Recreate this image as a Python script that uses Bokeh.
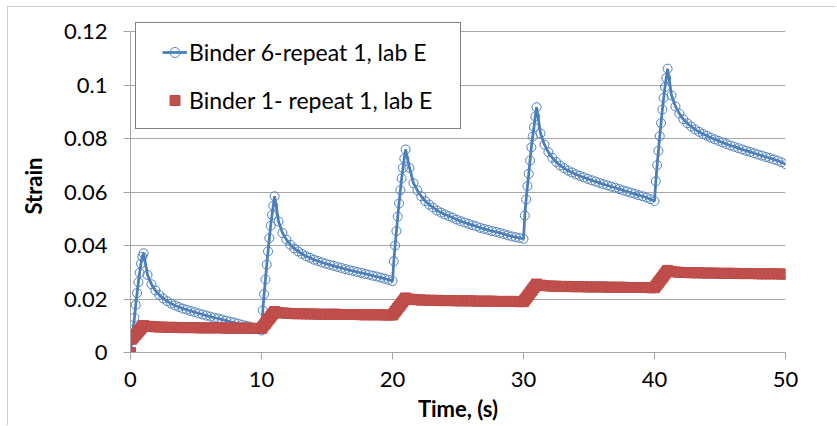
from bokeh.plotting import figure
from bokeh.models import (Legend, LegendItem, FixedTicker, CustomJSTickFormatter,
                          Range1d, ColumnDataSource)
from bokeh.embed import file_html
from bokeh.resources import INLINE

# ---------------- data ----------------
cycle_starts = [0, 10, 20, 30, 40]
# sample times inside one creep (0-1 s) / recovery (1-10 s) cycle
step_offsets = [0.1, 0.2, 0.3, 0.4, 0.5, 0.6, 0.7, 0.8, 0.9, 1.0,
                1.3, 1.6, 1.9, 2.2, 2.5, 2.8, 3.1, 3.4, 3.7, 4.0,
                4.3, 4.6, 4.9, 5.2, 5.5, 5.8, 6.1, 6.4, 6.7, 7.0,
                7.3, 7.6, 7.9, 8.2, 8.5, 8.8, 9.1, 9.4, 9.7, 10.0]

blue_c1 = [0.0045, 0.0085, 0.0130, 0.0178, 0.0222, 0.0263, 0.0298, 0.0332, 0.0358, 0.0371,
           0.0290, 0.0255, 0.0232, 0.0215, 0.0202, 0.0192, 0.0183, 0.0176, 0.0170, 0.0164,
           0.0160, 0.0155, 0.0151, 0.0146, 0.0142, 0.0138, 0.0134, 0.0130, 0.0127, 0.0123,
           0.0119, 0.0115, 0.0112, 0.0108, 0.0104, 0.0100, 0.0097, 0.0092, 0.0088, 0.0082]
blue_c2 = [0.0157, 0.0218, 0.0273, 0.0328, 0.0378, 0.0428, 0.0474, 0.0514, 0.0549, 0.0584,
           0.0490, 0.0447, 0.0422, 0.0403, 0.0389, 0.0378, 0.0368, 0.0360, 0.0354, 0.0347,
           0.0342, 0.0337, 0.0332, 0.0328, 0.0324, 0.0320, 0.0316, 0.0312, 0.0308, 0.0305,
           0.0301, 0.0298, 0.0294, 0.0291, 0.0287, 0.0284, 0.0280, 0.0276, 0.0272, 0.0267]
blue_c3 = [0.0341, 0.0400, 0.0454, 0.0508, 0.0557, 0.0607, 0.0651, 0.0690, 0.0725, 0.0759,
           0.0690, 0.0633, 0.0606, 0.0584, 0.0566, 0.0553, 0.0542, 0.0531, 0.0523, 0.0516,
           0.0510, 0.0504, 0.0497, 0.0491, 0.0486, 0.0481, 0.0476, 0.0472, 0.0466, 0.0462,
           0.0458, 0.0454, 0.0451, 0.0447, 0.0443, 0.0438, 0.0434, 0.0431, 0.0428, 0.0425]
blue_c4 = [0.0512, 0.0572, 0.0622, 0.0668, 0.0718, 0.0767, 0.0807, 0.0842, 0.0882, 0.0917,
           0.0819, 0.0777, 0.0749, 0.0728, 0.0712, 0.0699, 0.0689, 0.0680, 0.0673, 0.0666,
           0.0660, 0.0655, 0.0649, 0.0644, 0.0639, 0.0634, 0.0629, 0.0625, 0.0620, 0.0616,
           0.0611, 0.0606, 0.0602, 0.0597, 0.0593, 0.0588, 0.0584, 0.0579, 0.0573, 0.0566]
blue_c5 = [0.0640, 0.0700, 0.0754, 0.0809, 0.0858, 0.0908, 0.0952, 0.0992, 0.1026, 0.1061,
           0.0961, 0.0920, 0.0893, 0.0872, 0.0857, 0.0845, 0.0834, 0.0825, 0.0817, 0.0810,
           0.0803, 0.0797, 0.0791, 0.0785, 0.0779, 0.0774, 0.0769, 0.0764, 0.0759, 0.0754,
           0.0750, 0.0745, 0.0740, 0.0736, 0.0731, 0.0727, 0.0722, 0.0717, 0.0711, 0.0704]

red_c1 = [0.0050, 0.0056, 0.0062, 0.0067, 0.0073, 0.0079, 0.0084, 0.0090, 0.0096, 0.0101,
          0.0098, 0.0097, 0.0096, 0.0095, 0.0095, 0.0094, 0.0094, 0.0094, 0.0093, 0.0093,
          0.0093, 0.0093, 0.0093, 0.0092, 0.0092, 0.0092, 0.0092, 0.0092, 0.0092, 0.0092,
          0.0091, 0.0091, 0.0091, 0.0091, 0.0091, 0.0091, 0.0091, 0.0090, 0.0090, 0.0090]
red_c2 = [0.0096, 0.0103, 0.0109, 0.0115, 0.0122, 0.0128, 0.0134, 0.0140, 0.0147, 0.0153,
          0.0149, 0.0148, 0.0147, 0.0146, 0.0145, 0.0145, 0.0145, 0.0144, 0.0144, 0.0144,
          0.0143, 0.0143, 0.0143, 0.0143, 0.0143, 0.0143, 0.0142, 0.0142, 0.0142, 0.0142,
          0.0142, 0.0141, 0.0141, 0.0141, 0.0141, 0.0141, 0.0141, 0.0140, 0.0140, 0.0140]
red_c3 = [0.0146, 0.0153, 0.0159, 0.0166, 0.0172, 0.0178, 0.0185, 0.0191, 0.0198, 0.0204,
          0.0200, 0.0198, 0.0197, 0.0196, 0.0196, 0.0195, 0.0195, 0.0195, 0.0194, 0.0194,
          0.0194, 0.0194, 0.0193, 0.0193, 0.0193, 0.0193, 0.0193, 0.0192, 0.0192, 0.0192,
          0.0192, 0.0192, 0.0191, 0.0191, 0.0191, 0.0191, 0.0191, 0.0191, 0.0190, 0.0190]
red_c4 = [0.0197, 0.0203, 0.0210, 0.0216, 0.0223, 0.0230, 0.0236, 0.0243, 0.0249, 0.0256,
          0.0252, 0.0250, 0.0249, 0.0248, 0.0248, 0.0247, 0.0247, 0.0247, 0.0246, 0.0246,
          0.0246, 0.0246, 0.0245, 0.0245, 0.0245, 0.0245, 0.0245, 0.0244, 0.0244, 0.0244,
          0.0244, 0.0244, 0.0243, 0.0243, 0.0243, 0.0243, 0.0243, 0.0243, 0.0242, 0.0242]
red_c5 = [0.0249, 0.0255, 0.0262, 0.0268, 0.0275, 0.0281, 0.0288, 0.0294, 0.0301, 0.0307,
          0.0303, 0.0301, 0.0300, 0.0299, 0.0299, 0.0298, 0.0298, 0.0298, 0.0297, 0.0297,
          0.0297, 0.0297, 0.0296, 0.0296, 0.0296, 0.0296, 0.0296, 0.0295, 0.0295, 0.0295,
          0.0295, 0.0295, 0.0294, 0.0294, 0.0294, 0.0294, 0.0294, 0.0294, 0.0293, 0.0293]

blue_cycles = [blue_c1, blue_c2, blue_c3, blue_c4, blue_c5]
red_cycles = [red_c1, red_c2, red_c3, red_c4, red_c5]

x_ticks = [0, 10, 20, 30, 40, 50]
y_ticks = [0, 0.02, 0.04, 0.06, 0.08, 0.1, 0.12]

label_blue = "Binder 6-repeat 1, lab E"
label_red = "Binder 1- repeat 1, lab E"
x_title = "Time, (s)"
y_title = "Strain"

# ---------------- assemble ----------------
time = [0.0]
blue = [0.0]
red = [0.0]
for start, b, r in zip(cycle_starts, blue_cycles, red_cycles):
    time += [round(start + o, 2) for o in step_offsets]
    blue += b
    red += r

src = ColumnDataSource(dict(t=time, blue=blue, red=red))

FONT = "Lato"
GRID = "#a6a6a6"

Y_MAX = 0.12
PLOT_H = 321                      # pixels between 0 and 0.12
EXTRA_TOP = 12                    # frame reaches above 0.12 so the legend frame is not clipped
y_top = Y_MAX * (PLOT_H + EXTRA_TOP) / PLOT_H

p = figure(width=829, height=419,
           frame_width=655, frame_height=PLOT_H + EXTRA_TOP,
           min_border_left=122, min_border_right=52,
           min_border_top=12, min_border_bottom=74,
           x_range=Range1d(0, 50), y_range=Range1d(0, y_top),
           output_backend="svg", toolbar_location=None,
           background_fill_color="white", border_fill_color="white",
           margin=(7, 0, 0, 8),
           styles={"box-shadow": "-1px -1px 0 0 #cfcfcf"})
p.outline_line_color = None

# axes
for ax in (p.xaxis[0], p.yaxis[0]):
    ax.axis_line_color = GRID
    ax.major_tick_line_color = GRID
    ax.major_tick_out = 7
    ax.major_tick_in = 0
    ax.minor_tick_line_color = None
    ax.major_label_text_font = FONT
    ax.major_label_text_font_size = "22px"
    ax.major_label_text_color = "black"
    ax.axis_label_text_font = FONT
    ax.axis_label_text_font_size = "22px"
    ax.axis_label_text_font_style = "bold"
    ax.axis_label_text_color = "black"

p.xaxis.ticker = FixedTicker(ticks=x_ticks)
p.yaxis.ticker = FixedTicker(ticks=y_ticks)
p.yaxis.bounds = (0, Y_MAX)
p.yaxis.formatter = CustomJSTickFormatter(code="return String(parseFloat(tick.toFixed(4)));")
p.xaxis.major_label_standoff = 12
p.yaxis.major_label_standoff = 16
p.xaxis.axis_label = x_title
p.yaxis.axis_label = y_title
p.xaxis.axis_label_standoff = 5
p.yaxis.axis_label_standoff = 14

p.xgrid.visible = False
p.ygrid.ticker = FixedTicker(ticks=y_ticks)
p.ygrid.grid_line_color = GRID
p.ygrid.grid_line_width = 1

# series
BLUE = "#4A7EBB"
RED = "#C0504D"
bl = p.line("t", "blue", source=src, line_color=BLUE, line_width=2.75)
bc = p.scatter("t", "blue", source=src, marker="circle", size=9,
               line_color="#4F81BD", line_width=1, fill_color=None)
rs = p.scatter("t", "red", source=src, marker="square", size=10,
               line_color="#BE4B48", line_width=1, fill_color=RED)

# invisible renderer used only to give the legend frame an item
dummy = p.scatter(x=[0], y=[0], size=1, fill_alpha=0, line_alpha=0)

# legend frame
legend_box = Legend(items=[LegendItem(label=" ", renderers=[dummy])],
                    location=(5, 223), padding=0, margin=0,
                    glyph_width=1, glyph_height=105, label_width=323, label_height=105,
                    label_standoff=0, spacing=0,
                    border_line_color="black", border_line_width=1,
                    background_fill_color="white", background_fill_alpha=1,
                    label_text_alpha=0)
p.add_layout(legend_box)

legend = Legend(items=[LegendItem(label=label_blue, renderers=[bl, bc]),
                       LegendItem(label=label_red, renderers=[rs])],
                location=(32, 237), padding=0, margin=0,
                border_line_alpha=0, background_fill_alpha=0,
                glyph_width=25, glyph_height=30, label_height=30,
                label_standoff=2, spacing=18,
                label_text_font=FONT, label_text_font_size="23px",
                label_text_color="black")
p.add_layout(legend)

open("out.html", "w").write(file_html(p, INLINE))
